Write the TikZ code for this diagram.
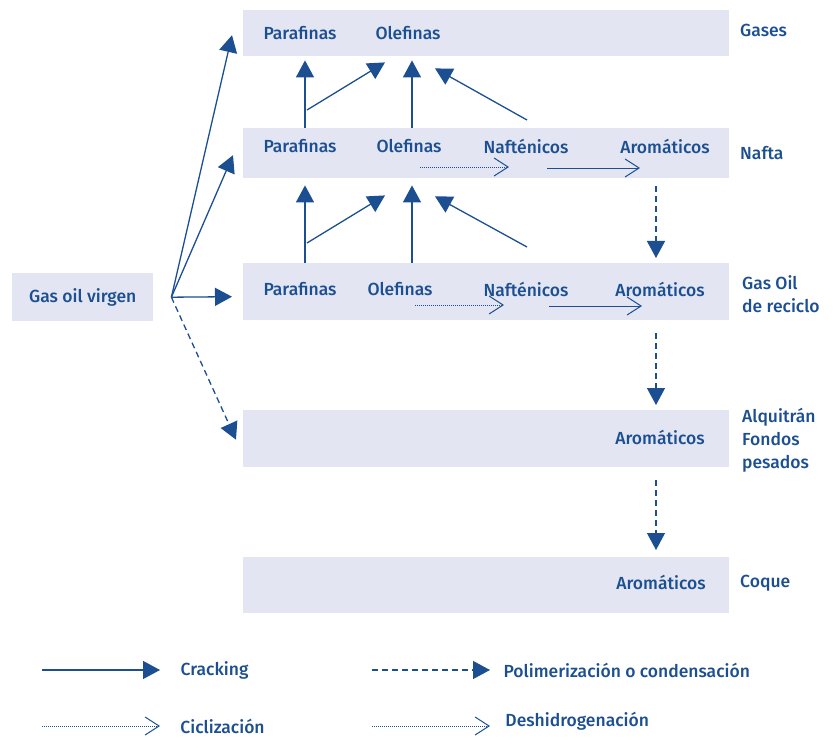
\documentclass[tikz,border=0pt]{standalone}
\usepackage{fontspec}
\setmainfont{Fira Sans}[UprightFont={* Medium}]
\usetikzlibrary{arrows.meta, positioning, calc}
\definecolor{petroblue}{HTML}{1C4F91}
\definecolor{petrofill}{HTML}{E3E6F2}

\begin{document}
\begin{tikzpicture}[x=1pt, y=-1pt,
    band/.style={rectangle, fill=petrofill, minimum width=486pt, anchor=north west, inner sep=0pt},
    comp/.style={text=petroblue, font=\fontsize{17.5}{21}\selectfont, inner sep=1pt},
    tag/.style={text=petroblue, font=\fontsize{17.5}{23}\selectfont, align=left, anchor=west, inner sep=0pt},
    crack/.style={draw=petroblue, line width=1.3pt, -{Triangle[length=17pt,width=18pt]}},
    poly/.style={crack, dash pattern=on 6pt off 4pt},
    cycl/.style={draw=petroblue, line width=0.9pt, dash pattern=on 1pt off 1pt, -{Straight Barb[length=14pt,width=18pt,line width=1pt]}},
    dehyd/.style={cycl, solid}
  ]
  \useasboundingbox (0,0) rectangle (833,738);

  % bands
  \node[band, minimum height=46pt] (gases) at (243,10) {};
  \node[band, minimum height=50pt] (nafta) at (243,128) {};
  \node[band, minimum height=57pt] (gasoil) at (243,263) {};
  \node[band, minimum height=57pt] (alq) at (243,410) {};
  \node[band, minimum height=56pt] (coque) at (243,557) {};
  \node[band, minimum width=141pt, minimum height=48pt, comp] (virgen) at (12,273) {Gas oil virgen};

  % components
  \node[comp] (gP) at (300,33) {Parafinas};
  \node[comp] (gO) at (408,33) {Olefinas};
  \node[comp] (nP) at (300,146) {Parafinas};
  \node[comp] (nO) at (409,146) {Olefinas};
  \node[comp] (nN) at (526,146) {Nafténicos};
  \node[comp] (nA) at (665,146) {Aromáticos};
  \node[comp] (oP) at (300,289) {Parafinas};
  \node[comp] (oO) at (400,289) {Olefinas};
  \node[comp] (oN) at (526,289) {Nafténicos};
  \node[comp] (oA) at (660,289) {Aromáticos};
  \node[comp] (aA) at (660,437) {Aromáticos};
  \node[comp] (cA) at (661,582) {Aromáticos};

  % fraction names
  \node[tag] (tgases) at (740,30) {Gases};
  \node[tag] (tnafta) at (740,153) {Nafta};
  \node[tag] (tgasoil) at (742,294) {Gas Oil\\de reciclo};
  \node[tag] (talq) at (742,440) {Alquitrán\\Fondos\\pesados};
  \node[tag] (tcoque) at (740,583) {Coque};

  % from the virgin gas oil
  \coordinate (split) at ($(virgen.east)+(18,0)$);
  \draw[crack] (split) -- ($(gases.west)+(-11,2)$);
  \draw[crack] (split) -- ($(nafta.west)+(-10,2)$);
  \draw[crack] (split) -- ($(gasoil.west)+(-11,5)$);
  \draw[poly] (split) -- ($(alq.west)+(-7,1)$);

  % cracking towards the lighter cut
  \foreach \lo/\hi/\lift/\tv/\tb/\nlift/\tn in {nafta/gases/18/4/6/8/12, gasoil/nafta/20/7/17/16/18} {
    \draw[crack] (\lo.north -| 305,0) -- ($(\hi.south -| 305,0)+(0,\tv)$);
    \draw[crack] ($(\lo.north -| 305,0)+(2,-\lift)$) -- ($(\hi.south -| 385,0)+(0,\tb)$);
    \draw[crack] (\lo.north -| 412,0) -- ($(\hi.south -| 412,0)+(0,\tv)$);
    \draw[crack] ($(\lo.north -| 527,0)+(0,-\nlift)$) -- ($(\hi.south -| 435,0)+(0,\tn)$);
  }

  % inside the rows
  \draw[cycl] (420,167) -- (509,167);
  \draw[dehyd] (547,168) -- (640,168);
  \draw[cycl] (415,305) -- (504,305);
  \draw[dehyd] (549,306) -- (642,306);

  % condensation down the cuts
  \draw[poly] ($(nafta.south -| 656,0)+(0,8)$) -- ($(gasoil.north -| 656,0)+(0,-5)$);
  \draw[poly] ($(gasoil.south -| 656,0)+(0,13)$) -- ($(alq.north -| 656,0)+(0,-5)$);
  \draw[poly] ($(alq.south -| 656,0)+(0,13)$) -- ($(coque.north -| 656,0)+(0,-7)$);

  % legend
  \coordinate (l1) at (42,670);
  \coordinate (l2) at (372,670);
  \coordinate (l3) at (42,726);
  \coordinate (l4) at (372,726);
  \draw[crack] (l1) -- ++(118,0) node[tag, right=20pt] (kcrack) {Cracking};
  \draw[poly] (l2) -- ++(118,0) node[tag, right=13pt] (kpoly) {Polimerización o condensación};
  \draw[cycl] (l3) -- ++(118,0) node[tag, right=20pt] (kcycl) {Ciclización};
  \draw[cycl] (l4) -- ++(118,0) node[tag, right=15pt, yshift=5pt] (kdehyd) {Deshidrogenación};
\end{tikzpicture}
\end{document}
